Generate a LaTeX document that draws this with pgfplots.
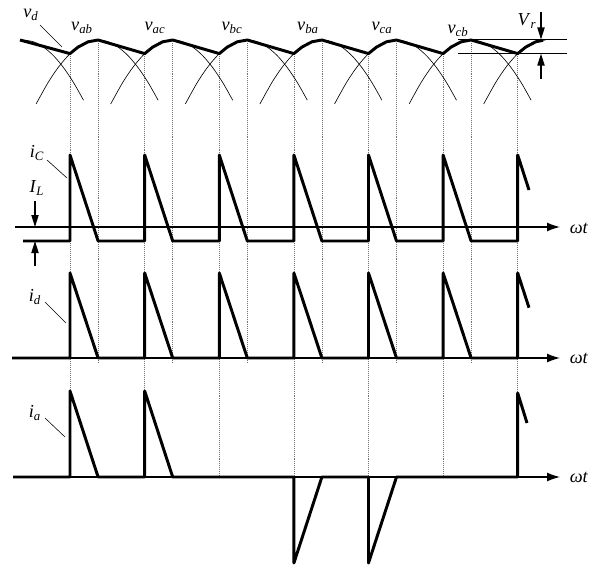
\documentclass[border=0pt]{standalone}
\usepackage{fontspec}
\setmainfont{Liberation Serif}
\usepackage{pgfplots}
\pgfplotsset{compat=1.18}
\usetikzlibrary{arrows.meta}

\newcommand{\lab}[2]{\textit{#1}\textsubscript{\textit{#2}}}

\tikzset{
  wave/.style={line width=2.1pt, line join=round, black},
  arc/.style={line width=0.45pt, black, smooth},
  guide/.style={densely dotted, line width=0.4pt, black!55},
  waxis/.style={line width=0.9pt, -{Latex[length=3.2mm, width=2.2mm]}},
  lead/.style={line width=0.4pt},
  vr/.style={line width=0.9pt, -{Triangle[length=3mm, width=1.8mm]}},
  lbl/.style={font=\fontsize{13}{15}\selectfont, inner sep=0pt}
}

\begin{document}
\begin{tikzpicture}
\begin{axis}[
  scale only axis, width=14.8cm, height=14.175cm,
  xmin=0, xmax=592, ymin=0, ymax=567, y dir=reverse,
  hide axis, clip=false
]
\path (axis cs:0,0) (axis cs:592,567);

% dotted guides
\pgfplotsinvokeforeach{70,144.7,219.3,293.9,368.5,443.1,517.7}{
  \draw[guide] (axis cs:#1,56) -- (axis cs:#1,476);}
\pgfplotsinvokeforeach{98.1,172.7,247.3,321.9,396.5,471.1}{
  \draw[guide] (axis cs:#1,43) -- (axis cs:#1,362);}

% line-to-line voltage arcs
\addplot[arc] coordinates {(23.5,40) (33.5,41.8) (43.5,47.1) (53.5,55.7) (63.5,67.6) (73.5,82.5) (83.5,100.2)};
\addplot[arc] coordinates {(36.1,104) (48.1,82.5) (58.1,67.6) (68.1,55.7) (78.1,47.1) (88.1,41.8) (98.1,40) (108.1,41.8) (118.1,47.1) (128.1,55.7) (138.1,67.6) (148.1,82.5) (158.1,100.2)};
\addplot[arc] coordinates {(110.7,104) (122.7,82.5) (132.7,67.6) (142.7,55.7) (152.7,47.1) (162.7,41.8) (172.7,40) (182.7,41.8) (192.7,47.1) (202.7,55.7) (212.7,67.6) (222.7,82.5) (232.7,100.2)};
\addplot[arc] coordinates {(185.3,104) (197.3,82.5) (207.3,67.6) (217.3,55.7) (227.3,47.1) (237.3,41.8) (247.3,40) (257.3,41.8) (267.3,47.1) (277.3,55.7) (287.3,67.6) (297.3,82.5) (307.3,100.2)};
\addplot[arc] coordinates {(259.9,104) (271.9,82.5) (281.9,67.6) (291.9,55.7) (301.9,47.1) (311.9,41.8) (321.9,40) (331.9,41.8) (341.9,47.1) (351.9,55.7) (361.9,67.6) (371.9,82.5) (381.9,100.2)};
\addplot[arc] coordinates {(334.5,104) (346.5,82.5) (356.5,67.6) (366.5,55.7) (376.5,47.1) (386.5,41.8) (396.5,40) (406.5,41.8) (416.5,47.1) (426.5,55.7) (436.5,67.6) (446.5,82.5) (456.5,100.2)};
\addplot[arc] coordinates {(409.1,104) (421.1,82.5) (431.1,67.6) (441.1,55.7) (451.1,47.1) (461.1,41.8) (471.1,40) (481.1,41.8) (491.1,47.1) (501.1,55.7) (511.1,67.6) (521.1,82.5) (531.1,100.2)};
\addplot[arc] coordinates {(483.7,104) (495.7,82.5) (505.7,67.6) (515.7,55.7) (525.7,47.1) (535.7,41.8) (545.7,40)};

% output voltage v_d
\addplot[wave] coordinates {(20,40) (70,53.6) (78.1,47.1) (88.1,41.8) (98.1,40)
  (144.7,53.6) (152.7,47.1) (162.7,41.8) (172.7,40)
  (219.3,53.6) (227.3,47.1) (237.3,41.8) (247.3,40)
  (293.9,53.6) (301.9,47.1) (311.9,41.8) (321.9,40)
  (368.5,53.6) (376.5,47.1) (386.5,41.8) (396.5,40)
  (443.1,53.6) (451.1,47.1) (461.1,41.8) (471.1,40)
  (517.7,53.6) (525.7,47.1) (535.7,41.8) (543,40.3)};

% ripple V_r
\draw[lead] (axis cs:458,39.5) -- (axis cs:567,39.5);
\draw[lead] (axis cs:458,53.6) -- (axis cs:567,53.6);
\draw[vr] (axis cs:541,12) -- (axis cs:541,39.5);
\draw[vr] (axis cs:541,79) -- (axis cs:541,53.6);
\node[lbl] at (axis cs:527,21) {\lab{V}{r}};

% voltage labels
\node[lbl] at (axis cs:31,15) {\lab{v}{d}};
\draw[lead] (axis cs:40,25) -- (axis cs:62,47);
\node[lbl] at (axis cs:82,28) {\lab{v}{ab}};
\node[lbl] at (axis cs:155,28) {\lab{v}{ac}};
\node[lbl] at (axis cs:232,28) {\lab{v}{bc}};
\node[lbl] at (axis cs:308,28) {\lab{v}{ba}};
\node[lbl] at (axis cs:382,28) {\lab{v}{ca}};
\node[lbl] at (axis cs:458,31) {\lab{v}{cb}};

% time axes
\draw[waxis] (axis cs:15,227) -- (axis cs:560,227);
\draw[waxis] (axis cs:12,358) -- (axis cs:560,358);
\draw[waxis] (axis cs:13,477) -- (axis cs:560,477);
\node[lbl] at (axis cs:579,228) {\textit{ωt}};
\node[lbl] at (axis cs:579,358) {\textit{ωt}};
\node[lbl] at (axis cs:579,477) {\textit{ωt}};

% capacitor current i_C
\addplot[wave] coordinates {(23,241) (70,241) (70,155) (98.1,241)
  (144.7,241) (144.7,155) (172.7,241) (219.3,241) (219.3,155) (247.3,241)
  (293.9,241) (293.9,155) (321.9,241) (368.5,241) (368.5,155) (396.5,241)
  (443.1,241) (443.1,155) (471.1,241) (517.7,241) (517.7,155) (529,190)};
\node[lbl] at (axis cs:37,153) {\lab{i}{C}};
\draw[lead] (axis cs:47,160) -- (axis cs:67,178);
\node[lbl] at (axis cs:37,188) {\lab{I}{L}};
\draw[vr] (axis cs:35,201) -- (axis cs:35,227);
\draw[vr] (axis cs:35,266) -- (axis cs:35,241);

% rectifier output current i_d
\addplot[wave] coordinates {(12,358) (70,358) (70,273) (98.1,358)
  (144.7,358) (144.7,273) (172.7,358) (219.3,358) (219.3,273) (247.3,358)
  (293.9,358) (293.9,273) (321.9,358) (368.5,358) (368.5,273) (396.5,358)
  (443.1,358) (443.1,273) (471.1,358) (517.7,358) (517.7,273) (529,307.7)};
\node[lbl] at (axis cs:35,297) {\lab{i}{d}};
\draw[lead] (axis cs:45,302) -- (axis cs:66,323);

% line current i_a
\addplot[wave] coordinates {(13,477) (70,477) (70,391) (98.1,477)
  (144.7,477) (144.7,391) (172.7,477) (293.9,477) (293.9,563) (321.9,477)
  (368.5,477) (368.5,563) (396.5,477) (517.7,477) (517.7,393) (527,423)};
\node[lbl] at (axis cs:35,413) {\lab{i}{a}};
\draw[lead] (axis cs:45,418) -- (axis cs:65,437);
\end{axis}
\end{tikzpicture}
\end{document}
